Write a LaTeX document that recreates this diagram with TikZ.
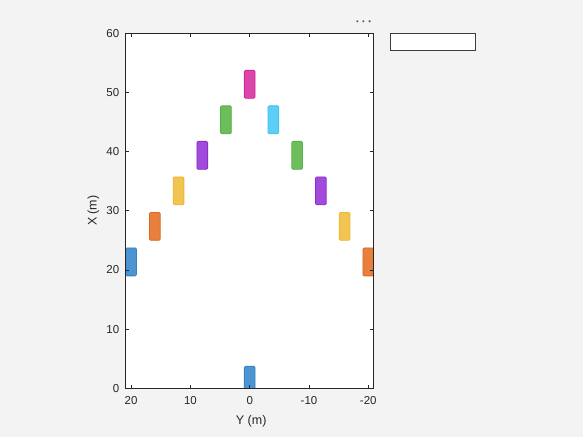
\documentclass[tikz,border=0pt]{standalone}
\usepackage{fontspec}
\setmainfont{Liberation Sans}
\usetikzlibrary{calc}

\definecolor{figbg}{HTML}{F3F3F3}
\definecolor{axgray}{HTML}{262626}
\definecolor{vblueF}{HTML}{4D94D3}\definecolor{vblueD}{HTML}{3A80C6}
\definecolor{vorangeF}{HTML}{E97F3C}\definecolor{vorangeD}{HTML}{DB6A22}
\definecolor{vyellowF}{HTML}{F2C452}\definecolor{vyellowD}{HTML}{EDB72E}
\definecolor{vpurpleF}{HTML}{A24ADB}\definecolor{vpurpleD}{HTML}{8A2FCC}
\definecolor{vgreenF}{HTML}{6CBE5C}\definecolor{vgreenD}{HTML}{5AAF49}
\definecolor{vcyanF}{HTML}{5DCEF5}\definecolor{vcyanD}{HTML}{3BC0EE}
\definecolor{vmagF}{HTML}{DC45A9}\definecolor{vmagD}{HTML}{D02A95}

\begin{document}
\begin{tikzpicture}[
    x=1pt, y=1pt,
    text=axgray,
    veh/.style={rectangle, rounded corners=1.2pt, minimum width=10.7pt, minimum height=27.9pt, inner sep=0pt, line width=0.8pt},
    ticklabel/.style={font=\fontsize{11.5}{13}\selectfont, inner sep=0pt},
    axlabel/.style={font=\fontsize{12.5}{14}\selectfont, inner sep=0pt},
    axline/.style={draw=axgray, line width=0.7pt},
]

% ==================== FIGURE ====================
\fill[figbg] (0,0) rectangle (583,437);
\useasboundingbox (0,0) rectangle (583,437);

% axes toolbar dots and empty legend box
\fill[black!60] (357.3,415.7) circle (1.2) (363.3,415.7) circle (1.2) (369.6,415.7) circle (1.2);
\node[draw=axgray!90, fill=white, line width=0.8pt, minimum width=85pt, minimum height=17.6pt, inner sep=0pt, anchor=north west] (legend) at (390,404.3) {};

% ==================== AXES (Y to the left, X up) ====================
\begin{scope}[shift={(249.7,48.7)}, x=-5.93pt, y=5.92pt]

    \fill[white] (20.9,0) rectangle (-20.8,60);

    % Vehicles, clipped to the axes
    \begin{scope}
        \clip (20.9,0) rectangle (-20.8,60);
        \node[veh, fill=vblueF, draw=vblueD] (egoCar) at (0,1.35) {};
        \node[veh, fill=vmagF, draw=vmagD] (leadCar) at (0,51.35) {};
        % left branch
        \node[veh, fill=vgreenF, draw=vgreenD] (leftCar1) at (4,45.35) {};
        \node[veh, fill=vpurpleF, draw=vpurpleD] (leftCar2) at (8,39.35) {};
        \node[veh, fill=vyellowF, draw=vyellowD] (leftCar3) at (12,33.35) {};
        \node[veh, fill=vorangeF, draw=vorangeD] (leftCar4) at (16,27.35) {};
        \node[veh, fill=vblueF, draw=vblueD] (leftCar5) at (20,21.35) {};
        % right branch
        \node[veh, fill=vcyanF, draw=vcyanD] (rightCar1) at (-4,45.35) {};
        \node[veh, fill=vgreenF, draw=vgreenD] (rightCar2) at (-8,39.35) {};
        \node[veh, fill=vpurpleF, draw=vpurpleD] (rightCar3) at (-12,33.35) {};
        \node[veh, fill=vyellowF, draw=vyellowD] (rightCar4) at (-16,27.35) {};
        \node[veh, fill=vorangeF, draw=vorangeD] (rightCar5) at (-20,21.35) {};
    \end{scope}

    % Box and ticks
    \draw[axline] (20.9,0) rectangle (-20.8,60);
    \foreach \yv in {20,10,0,-10,-20} {
        \draw[axline] (\yv,0) -- ++(0,3.5pt);
        \draw[axline] (\yv,60) -- ++(0,-3.5pt);
        \node[ticklabel, anchor=north] at ($(\yv,0)+(0,-8.4pt)$) {\yv};
    }
    \foreach \xv in {0,10,...,60} {
        \draw[axline] (20.9,\xv) -- ++(3.5pt,0);
        \draw[axline] (-20.8,\xv) -- ++(-3.5pt,0);
        \node[ticklabel, anchor=east] at ($(20.9,\xv)+(-6.3pt,0)$) {\xv};
    }

    % Axis labels
    \node[axlabel] (ylab) at (-0.25,-5.55) {Y (m)};
    \node[axlabel, rotate=90] (xlab) at (26.34,30) {X (m)};
\end{scope}

\end{tikzpicture}
\end{document}
